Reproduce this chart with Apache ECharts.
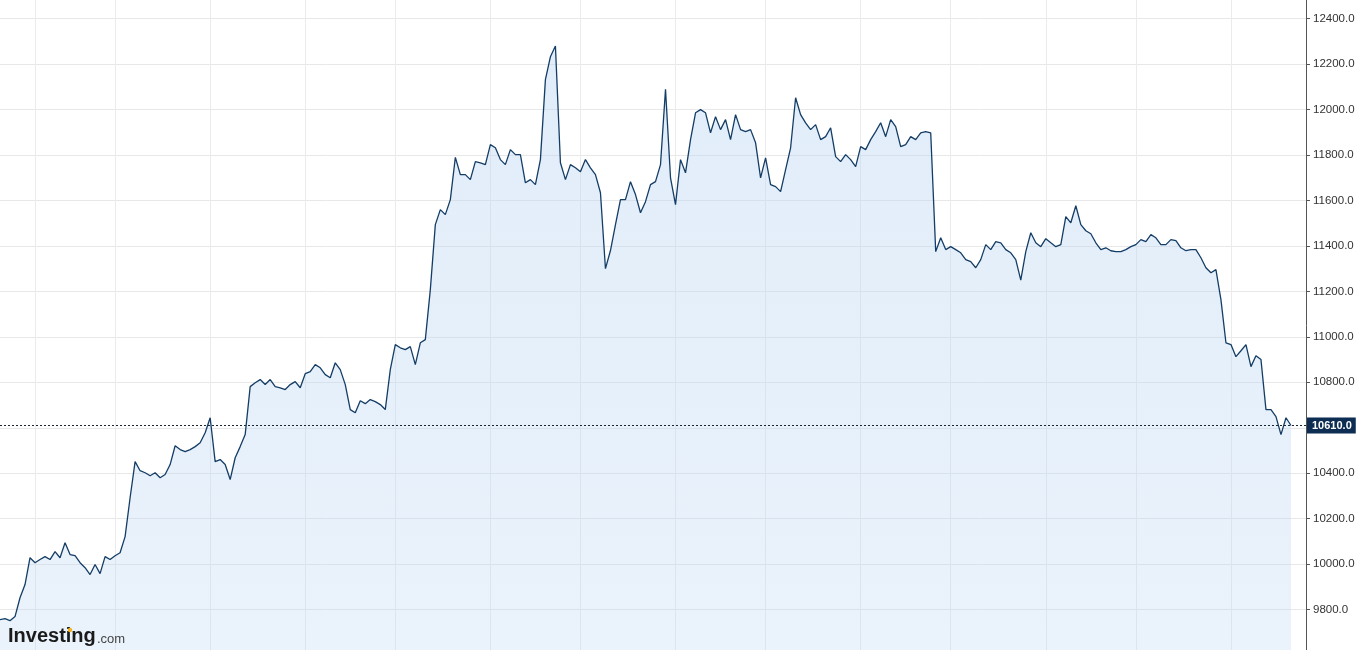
<!DOCTYPE html>
<html>
<head>
<meta charset="utf-8">
<script src="https://cdn.jsdelivr.net/npm/echarts@6/dist/echarts.min.js"></script>
<style>
html,body{margin:0;padding:0;background:#fff;overflow:hidden;width:1359px;height:650px;}
#chart{position:absolute;left:0;top:-4px;width:1359px;height:659px;}
</style>
</head>
<body>
<div id="chart"></div>
<script>
// Daily closing prices
const prices = [
9756,9760,9751,9769,9852,9910,10028,10006,10020,10033,
10020,10055,10028,10094,10042,10037,10006,9984,9954,9998,
9958,10033,10020,10037,10050,10121,10292,10451,10411,10402,
10389,10402,10380,10394,10438,10521,10504,10495,10504,10517,
10534,10578,10644,10451,10460,10438,10372,10468,10517,10570,
10781,10798,10812,10790,10812,10781,10776,10768,10790,10803,
10776,10838,10847,10878,10864,10834,10820,10886,10856,10790,
10680,10666,10719,10706,10724,10715,10702,10680,10856,10966,
10952,10944,10957,10878,10974,10988,11208,11494,11560,11538,
11604,11790,11714,11714,11692,11771,11766,11758,11846,11832,
11780,11758,11824,11802,11802,11678,11692,11670,11780,12132,
12233,12280,11766,11692,11758,11744,11727,11780,11744,11714,
11634,11300,11380,11494,11604,11604,11683,11626,11546,11595,
11670,11683,11758,12090,11700,11582,11780,11722,11868,11986,
12000,11986,11898,11969,11912,11956,11868,11978,11912,11903,
11912,11854,11700,11788,11670,11661,11639,11736,11832,12052,
11978,11942,11912,11934,11868,11881,11920,11793,11771,11802,
11780,11749,11837,11824,11868,11903,11942,11881,11956,11925,
11837,11846,11881,11868,11898,11903,11898,11375,11436,11384,
11397,11384,11370,11340,11331,11304,11340,11406,11384,11419,
11414,11384,11370,11340,11250,11375,11458,11414,11397,11432,
11414,11397,11406,11529,11502,11577,11494,11467,11454,11414,
11384,11392,11379,11375,11375,11384,11397,11406,11428,11419,
11450,11436,11406,11406,11428,11423,11392,11379,11384,11384,
11348,11304,11282,11296,11164,10974,10966,10913,10939,10966,
10869,10917,10900,10680,10680,10649,10570,10644,10610
];
const lastPrice = 10610;
const totalSlots = 262;                 // trading-day slots on the time axis
const monthStartIdx = [7,23,42,61,79,98,116,135,153,172,190,209,227,246];
const yTicks = {min: 9600, max: 12500, step: 200};

const categories = [];
for (let i = 0; i < totalSlots; i++) categories.push(String(i));
const seriesData = categories.map((c, i) => (i < prices.length ? prices[i] : null));

const chart = echarts.init(document.getElementById('chart'), null, {renderer: 'canvas'});
chart.setOption({
  animation: false,
  backgroundColor: '#ffffff',
  grid: {left: 0, right: 53, top: 0, bottom: 0, containLabel: false},
  xAxis: {
    type: 'category',
    data: categories,
    boundaryGap: false,
    axisLine: {show: false},
    axisTick: {show: false},
    axisLabel: {show: false},
    splitLine: {
      show: true,
      interval: function (idx) { return monthStartIdx.indexOf(idx) >= 0; },
      lineStyle: {color: '#ebebeb', width: 1}
    }
  },
  yAxis: {
    type: 'value',
    position: 'right',
    min: yTicks.min,
    max: yTicks.max,
    interval: yTicks.step,
    axisLine: {show: true, lineStyle: {color: '#555555', width: 1}},
    axisTick: {show: true, length: 4, lineStyle: {color: '#555555'}},
    axisLabel: {
      show: true,
      margin: 7,
      color: '#333333',
      fontSize: 11.5,
      fontFamily: 'Liberation Sans, Arial, sans-serif',
      showMinLabel: false,
      showMaxLabel: false,
      formatter: function (v) { return v.toFixed(1); }
    },
    splitLine: {show: true, lineStyle: {color: '#e8e8e8', width: 1}}
  },
  series: [{
    type: 'line',
    data: seriesData,
    symbol: 'none',
    smooth: false,
    connectNulls: false,
    lineStyle: {color: '#143d66', width: 1.3},
    areaStyle: {
      color: new echarts.graphic.LinearGradient(0, 0, 0, 1, [
        {offset: 0, color: 'rgba(185,213,242,0.62)'},
        {offset: 1, color: 'rgba(185,213,242,0.42)'}
      ])
    },
    markLine: {
      silent: true,
      symbol: ['none', 'none'],
      lineStyle: {color: '#1a2633', type: [2, 2], width: 1},
      label: {
        show: true,
        position: 'end',
        distance: 1,
        formatter: function () { return lastPrice.toFixed(1); },
        backgroundColor: '#0d2d52',
        color: '#ffffff',
        fontWeight: 'bold',
        fontSize: 11,
        fontFamily: 'Liberation Sans, Arial, sans-serif',
        padding: [3, 4, 2, 5]
      },
      data: [{yAxis: lastPrice}]
    }
  }],
  graphic: [
    {
      type: 'text', left: 8, top: 630, z: 100,
      style: {text: 'Investing', fill: '#1a1a1a', font: 'bold 20px "Liberation Sans", Arial, sans-serif'}
    },
    {
      type: 'text', left: 97, top: 637, z: 100,
      style: {text: '.com', fill: '#444444', font: '13px "Liberation Sans", Arial, sans-serif'}
    },
    {
      type: 'circle', z: 101, shape: {cx: 70, cy: 634, r: 2.2}, style: {fill: '#f3b221'}
    }
  ]
});
</script>
</body>
</html>
